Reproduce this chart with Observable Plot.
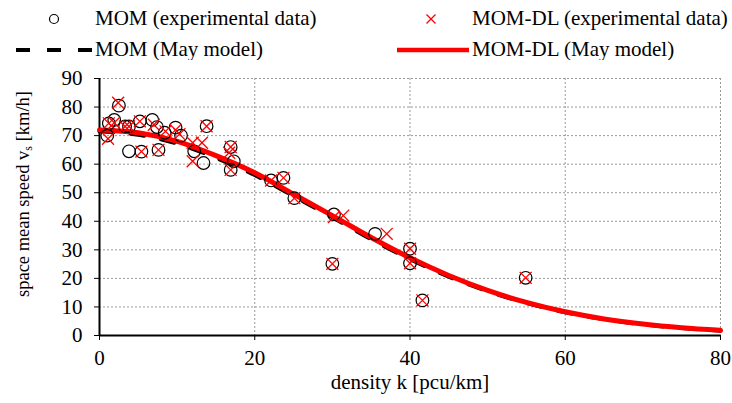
<!DOCTYPE html>
<html><head><meta charset="utf-8">
<script src="https://cdn.jsdelivr.net/npm/d3@7"></script>
<script src="https://cdn.jsdelivr.net/npm/@observablehq/plot@0.6"></script>
<style>
body{margin:0;background:#fff;}
#wrap{position:relative;width:732px;height:403px;font-family:"Liberation Serif","Times New Roman",serif;color:#000;}
.lg{position:absolute;font-size:21px;line-height:1;white-space:nowrap;}
.sym{position:absolute;}
#chart{position:absolute;left:0;top:60px;}
</style></head>
<body>
<div id="wrap">
  <svg class="sym" style="left:44px;top:9px" width="20" height="20"><circle cx="10" cy="10" r="4.5" fill="none" stroke="#000" stroke-width="1.2"/></svg>
  <div class="lg" style="left:95px;top:8px">MOM (experimental data)</div>
  <svg class="sym" style="left:421px;top:9px" width="20" height="20"><path d="M5.5,5.5L14.5,14.5M14.5,5.5L5.5,14.5" stroke="#f00" stroke-width="1.3"/></svg>
  <div class="lg" style="left:472px;top:8px">MOM-DL (experimental data)</div>
  <svg class="sym" style="left:0px;top:40px" width="95" height="20"><line x1="16" y1="10" x2="92" y2="10" stroke="#000" stroke-width="4" stroke-dasharray="14,17"/></svg>
  <div class="lg" style="left:95px;top:39px">MOM (May model)</div>
  <svg class="sym" style="left:390px;top:40px" width="85" height="20"><line x1="7" y1="10" x2="79" y2="10" stroke="#f00" stroke-width="4.5"/></svg>
  <div class="lg" style="left:472px;top:39px">MOM-DL (May model)</div>
  <div id="chart"></div>
</div>
<script>
// MOM experimental data (circles)
const momK = [1.0,1.2,1.9,2.5,3.3,3.8,3.8,5.2,5.4,6.8,7.4,7.6,8.4,9.8,10.5,12.2,13.4,13.8,16.9,17.3,16.9,22.1,23.7,25.1,30.0,30.2,35.5,40.0,40.0,41.6,54.9];
const momV = [70,74.3,75.5,80.5,73.2,73.2,64.5,75,64.4,75.5,73,65,71,72.8,70,64.5,60.4,73.3,66,61,58,54.3,55.2,48.1,25.1,42.4,35.6,30.4,25.3,12.3,20.2];
// MOM-DL experimental data (crosses)
const dlK = [1.1,1.2,1.9,2.4,3.3,3.8,5.2,5.4,7.0,7.6,8.5,9.8,10.3,12.0,12.0,13.2,13.8,16.9,16.7,16.9,22.1,23.7,25.1,30.0,30.2,31.4,37.0,40.0,40.0,41.6,54.9];
const dlV = [68.9,74.3,74.5,81.5,73.2,73.2,75,64.4,73.8,65,71.5,72,70.5,67.5,61,67.5,73.3,66,64,58,54.3,55.2,48.1,25.1,41.5,42,35.6,30.4,25.3,12.3,20.2];
// May model curves
const modelK = [0,5,10,15,20,25,30,35,40,45,50,55,60,65,70,75,80];
const momModelV = [71.5,70.3,67.2,62.2,56.2,48.8,41.4,33.7,26.7,20.6,15.5,11.4,8.1,5.7,3.9,2.6,1.7];
const dlModelV = [72,71,68,63,57,49.5,42,34.3,27.2,21,15.8,11.6,8.3,5.8,4,2.7,1.8];
// ticks
const xTicks = [0,20,40,60,80];
const yTicks = [0,10,20,30,40,50,60,70,80,90];

const mom = momK.map((k,i)=>({k, v: momV[i]}));
const dl = dlK.map((k,i)=>({k, v: dlV[i]}));
const momModel = modelK.map((k,i)=>({k, v: momModelV[i]}));
const dlModel = modelK.map((k,i)=>({k, v: dlModelV[i]}));

const grid = {stroke:"#999", strokeOpacity:1, strokeDasharray:"2,2", strokeWidth:1};
const chart = Plot.plot({
  width: 732, height: 343,
  marginTop: 18, marginLeft: 99, marginRight: 12, marginBottom: 68,
  style: {fontFamily: '"Liberation Serif","Times New Roman",serif', fontSize: "21px", color: "#000", background: "#fff", overflow: "visible"},
  x: {domain: [0, 80]},
  y: {domain: [0, 90]},
  marks: [
    Plot.gridX(xTicks.filter(d=>d>0), grid),
    Plot.gridY(yTicks.filter(d=>d>0), grid),
    Plot.axisX(xTicks, {tickSize: 5, tickPadding: 10, label: null, fontSize: 21, stroke: "#000"}),
    Plot.axisY(yTicks, {tickSize: 5, tickPadding: 12, label: null, fontSize: 21, stroke: "#000"}),
    Plot.ruleX([0], {stroke: "#000", strokeWidth: 2}),
    Plot.ruleY([0], {stroke: "#000", strokeWidth: 2}),
    Plot.line(momModel, {x: "k", y: "v", stroke: "#000", strokeWidth: 4, strokeDasharray: "14,17", curve: "monotone-x"}),
    Plot.line(dlModel, {x: "k", y: "v", stroke: "#f00", strokeWidth: 5, curve: "monotone-x"}),
    Plot.dot(mom, {x: "k", y: "v", r: 6.3, stroke: "#000", strokeWidth: 1.2, fill: "none"}),
    Plot.dot(dl, {x: "k", y: "v", symbol: "times", r: 5.5, stroke: "#f00", strokeWidth: 1.3}),
    Plot.text(["density k [pcu/km]"], {frameAnchor: "bottom", dy: 53, fontSize: 21, fill: "#000"})
  ]
});
document.getElementById("chart").appendChild(chart);
// y-axis title with subscript
const svg = d3.select(chart);
const t = svg.append("text")
  .attr("transform", "translate(25,134) rotate(-90)")
  .attr("text-anchor", "middle")
  .attr("dominant-baseline", "middle")
  .attr("font-size", 18.5)
  .attr("fill", "#000");
t.append("tspan").text("space mean speed v");
t.append("tspan").attr("font-size", 12).attr("dy", 4).text("s");
t.append("tspan").attr("dy", -4).text(" [km/h]");
</script>
</body></html>
